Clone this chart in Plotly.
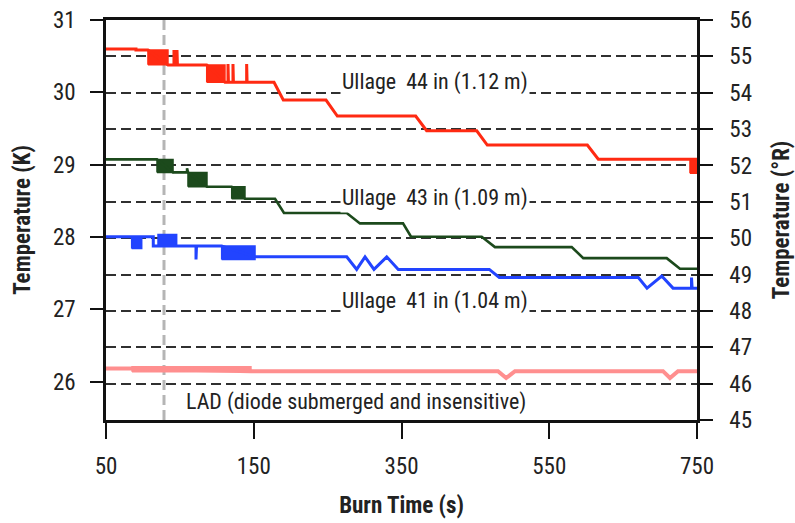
import plotly.graph_objects as go

# ---------------- data (x in axis position units; tick labels below) ----------------
x_tickvals = [50, 225, 400, 575, 750]
x_ticktext = ["50", "150", "350", "550", "750"]
y_left_ticks = [26, 27, 28, 29, 30, 31]
y_right_ticks = [45, 46, 47, 48, 49, 50, 51, 52, 53, 54, 55, 56]

# Ullage 44 in (red)
red_x = [50, 85.5, 85.5, 99.7, 123.4, 130.5, 130.5, 131.0, 134.1, 134.1, 134.6, 169.3, 190.9,
         194.5, 194.5, 195.0, 200.4, 200.4, 200.9, 216.6, 216.6, 217.1, 249.0, 260.0, 310.6,
         324.0, 416.8, 429.8, 489.1, 501.6, 620.1, 633.1, 750]
red_y = [30.599, 30.599, 30.585, 30.585, 30.378, 30.378, 30.585, 30.378, 30.378, 30.585, 30.378,
         30.378, 30.138, 30.138, 30.39, 30.138, 30.138, 30.39, 30.138, 30.138, 30.39, 30.138,
         30.138, 29.893, 29.893, 29.672, 29.672, 29.469, 29.469, 29.271, 29.271, 29.075, 29.075]
red_blk_x0 = [99.7, 169.3, 741.7]
red_blk_x1 = [123.4, 190.9, 750.0]
red_blk_lo = [30.38, 30.14, 28.88]
red_blk_hi = [30.585, 30.378, 29.075]

# Ullage 43 in (dark green)
green_x = [50, 110.4, 129.4, 146.0, 146.0, 146.6, 147.1, 169.6, 198.9, 214.6, 250.2, 260.8,
           335.1, 350.8, 401.8, 411.3, 495.0, 510.7, 601.6, 615.3, 714.1, 729.8, 750]
green_y = [29.073, 29.073, 28.893, 28.893, 28.95, 28.893, 28.893, 28.694, 28.694, 28.528,
           28.528, 28.331, 28.331, 28.188, 28.188, 28.003, 28.003, 27.860, 27.860, 27.708,
           27.708, 27.560, 27.560]
green_blk_x0 = [110.4, 147.1, 198.9]
green_blk_x1 = [129.4, 169.6, 214.6]
green_blk_lo = [28.893, 28.694, 28.528]
green_blk_hi = [29.073, 28.893, 28.694]

# Ullage 41 in (blue)
blue_x = [50, 78.4, 80.4, 92.3, 106.0, 106.0, 111.6, 133.7, 156.6, 156.6, 157.2, 187.0, 226.5,
          335.1, 346.9, 356.8, 367.4, 382.5, 396.2, 504.0, 515.8, 680.5, 690.8, 708.2, 721.6,
          743.5, 743.5, 744.2, 750]
blue_y = [28.003, 28.003, 28.003, 28.003, 28.003, 27.874, 27.874, 27.874, 27.874, 27.69, 27.874,
          27.874, 27.726, 27.726, 27.552, 27.726, 27.552, 27.726, 27.552, 27.552, 27.44, 27.44,
          27.293, 27.46, 27.293, 27.293, 27.44, 27.293, 27.293]
blue_blk_x0 = [80.4, 111.6, 187.0]
blue_blk_x1 = [92.3, 133.7, 226.5]
blue_blk_lo = [27.842, 27.874, 27.69]
blue_blk_hi = [28.003, 28.036, 27.874]

# LAD (pink)
pink_x = [50, 80.8, 221.7, 514.3, 524.0, 534.4, 709.7, 718.0, 727.5, 750]
pink_y = [26.183, 26.183, 26.145, 26.145, 26.05, 26.145, 26.145, 26.05, 26.145, 26.145]
pink_blk_x0 = [80.8]
pink_blk_x1 = [221.7]
pink_blk_lo = [26.136]
pink_blk_hi = [26.205]

marker_line_x = 118.7

labels = ["Ullage  44 in (1.12 m)", "Ullage  43 in (1.09 m)", "Ullage  41 in (1.04 m)",
          "LAD (diode submerged and insensitive)"]
label_x = [439.7, 439.7, 439.7, 142.4]
label_y = [30.142, 28.538, 27.113, 25.717]

# ---------------- styling ----------------
FONT = "Roboto, Liberation Sans, Arial, sans-serif"
NARROW = "<span style='font-stretch:condensed'>{}</span>"
RED = "#ff2a12"
GREEN = "#1c4a1c"
BLUE = "#2244ff"
PINK = "#ff8f8f"
YMIN, YMAX = 25.47, 31.0


def nt(s):
    return NARROW.format(s)


fig = go.Figure()

# vertical dashed marker
fig.add_trace(go.Scatter(x=[marker_line_x, marker_line_x], y=[YMIN, YMAX], mode="lines",
                         line=dict(color="#b5b5b5", width=3, dash="10px,5px"),
                         hoverinfo="skip", showlegend=False))


def add_blocks(x0s, x1s, los, his, color):
    for a, b, lo, hi in zip(x0s, x1s, los, his):
        fig.add_trace(go.Scatter(x=[a, b, b, a, a], y=[lo, lo, hi, hi, lo], mode="lines",
                                 fill="toself", fillcolor=color,
                                 line=dict(color=color, width=1.5),
                                 hoverinfo="skip", showlegend=False))


series = [
    (pink_x, pink_y, pink_blk_x0, pink_blk_x1, pink_blk_lo, pink_blk_hi, PINK, 4),
    (blue_x, blue_y, blue_blk_x0, blue_blk_x1, blue_blk_lo, blue_blk_hi, BLUE, 3),
    (green_x, green_y, green_blk_x0, green_blk_x1, green_blk_lo, green_blk_hi, GREEN, 2.6),
    (red_x, red_y, red_blk_x0, red_blk_x1, red_blk_lo, red_blk_hi, RED, 3),
]
for sx, sy, bx0, bx1, blo, bhi, col, w in series:
    add_blocks(bx0, bx1, blo, bhi, col)
    fig.add_trace(go.Scatter(x=sx, y=sy, mode="lines", line=dict(color=col, width=w),
                             showlegend=False))

# invisible trace to activate the right axis
fig.add_trace(go.Scatter(x=[50], y=[50], yaxis="y2", mode="markers",
                         marker=dict(opacity=0), hoverinfo="skip", showlegend=False))

for t, lx, ly in zip(labels, label_x, label_y):
    fig.add_annotation(x=lx, y=ly, text=nt(t), showarrow=False,
                       xanchor="left" if t.startswith("LAD") else "center",
                       yanchor="middle", bgcolor="white", borderpad=1,
                       font=dict(family=FONT, size=22, color="#222222"))

tickfont = dict(family=FONT, size=23, color="#222222")
titlefont = dict(family=FONT, size=23, color="#222222", weight="bold")

fig.update_layout(
    width=795, height=523,
    margin=dict(l=106, r=98, t=20, b=103, autoexpand=False),
    paper_bgcolor="white", plot_bgcolor="white",
    xaxis=dict(range=[50, 750], tickvals=x_tickvals, ticktext=[nt(v) for v in x_ticktext],
               ticks="outside", ticklen=16, tickwidth=2, tickcolor="#111111",
               showline=True, linewidth=2.5, linecolor="#111111", mirror=True,
               showgrid=False, zeroline=False, tickfont=tickfont, ticklabelstandoff=8,
               title=dict(text=nt("Burn Time (s)"), font=titlefont, standoff=18)),
    yaxis=dict(range=[YMIN, YMAX], tickvals=y_left_ticks,
               ticktext=[nt(v) for v in y_left_ticks],
               ticks="outside", ticklen=13, tickwidth=1.5, tickcolor="#111111",
               showline=True, linewidth=2.5, linecolor="#111111",
               showgrid=False, zeroline=False, tickfont=tickfont, ticklabelstandoff=10,
               title=dict(text=nt("Temperature (K)"), font=titlefont, standoff=16)),
    yaxis2=dict(range=[45, 56], tickvals=y_right_ticks,
                ticktext=[nt(v) for v in y_right_ticks], overlaying="y", side="right",
                ticks="outside", ticklen=13, tickwidth=1.5, tickcolor="#111111",
                showline=True, linewidth=2.5, linecolor="#111111",
                showgrid=True, gridcolor="#303030", gridwidth=2.2, griddash="10px,5px",
                zeroline=False, tickfont=tickfont, ticklabelstandoff=12,
                title=dict(text=nt("Temperature (°R)"), font=titlefont, standoff=22)),
)

fig.write_html("out.html")
